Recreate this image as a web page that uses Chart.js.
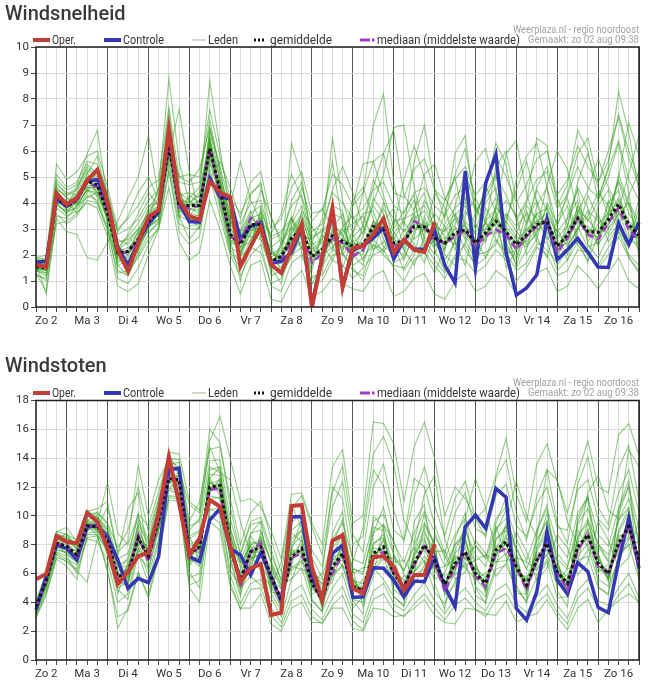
<!DOCTYPE html>
<html>
<head>
<meta charset="utf-8">
<script src="https://cdn.jsdelivr.net/npm/chart.js@4.4.1/dist/chart.umd.min.js"></script>
<style>
html,body{margin:0;padding:0;background:#fff;}
body{width:650px;height:692px;position:relative;overflow:hidden;font-family:Roboto,"Liberation Sans",Arial,sans-serif;}
canvas{position:absolute;left:0;}
.ttl{position:absolute;left:5px;margin:0;font-size:20px;line-height:20px;font-weight:500;color:#3a3a3a;z-index:2;}
</style>
</head>
<body>
<canvas id="c1" width="650" height="340" style="top:0px"></canvas>
<canvas id="c2" width="650" height="339" style="top:353px"></canvas>
<h1 class="ttl" style="top:3px">Windsnelheid</h1>
<h1 class="ttl" style="top:355px">Windstoten</h1>
<script>
// ---------- DATA ----------
const dayLabels = ['Zo 2','Ma 3','Di 4','Wo 5','Do 6','Vr 7','Za 8','Zo 9','Ma 10','Di 11','Wo 12','Do 13','Vr 14','Za 15','Zo 16'];
const legendLabels = ['Oper.','Controle','Leden','gemiddelde','mediaan (middelste waarde)'];
const sourceLines = ['Weerplaza.nl - regio noordoost','Gemaakt: zo 02 aug 09:38'];
const speedTicks = [0,1,2,3,4,5,6,7,8,9,10];
const gustTicks = [0,2,4,6,8,10,12,14,16,18];

// Windsnelheid (Bft)
const speedOper = [1.63,1.54,4.38,3.94,4.19,4.87,5.28,4.06,2.2,1.37,
 2.46,3.46,3.74,6.85,4.13,3.49,3.36,4.83,4.41,4.23,
 1.56,2.33,3.08,1.63,1.31,2.27,3.17,0.0,1.9,3.8,
 0.75,2.27,2.35,2.8,3.4,2.1,2.58,2.2,2.12,3.25];
const speedControle = [1.72,1.76,4.15,3.87,4.15,4.83,4.9,4.0,2.3,1.6,
 2.5,3.2,3.65,6.4,4.0,3.29,3.26,4.96,4.23,4.15,
 2.6,3.1,3.25,1.69,1.76,2.1,3.05,0.1,1.9,3.7,
 0.8,2.2,2.35,2.65,3.04,1.84,2.58,2.22,2.22,2.95,
 1.6,0.93,5.22,1.5,4.77,5.86,2.08,0.46,0.73,1.24,
 3.36,1.82,2.2,2.64,2.1,1.54,1.52,3.23,2.4,3.25];
const speedMean = [1.56,1.5,4.25,3.87,4.13,4.83,4.7,3.6,2.08,2.14,
 2.6,3.3,3.7,6.2,3.9,3.9,3.9,6.1,4.5,2.8,
 2.4,3.17,3.17,1.76,1.95,2.65,2.97,1.95,2.2,2.74,
 2.53,2.33,2.4,3.1,3.0,2.46,2.53,3.1,3.08,2.65,
 2.46,2.85,2.97,2.46,2.85,3.3,2.9,2.4,2.78,3.17,
 3.3,2.33,2.78,3.42,2.9,2.87,3.36,3.96,3.17,2.74];
const speedMedian = [1.6,1.5,4.2,3.9,4.1,4.8,4.6,3.7,2.1,2.1,
 2.6,3.3,3.7,6.3,3.8,3.8,3.9,6.1,4.4,2.7,
 2.5,3.42,3.17,1.69,1.88,2.5,2.97,1.69,2.08,2.65,
 2.46,1.95,2.2,2.9,3.04,2.33,2.46,3.3,3.1,2.6,
 2.46,2.7,2.97,2.33,2.72,2.97,2.78,2.2,2.72,3.1,
 3.3,2.08,2.65,3.42,2.78,2.6,3.23,3.8,2.97,2.53];
const speedMembers = [
 [1.5,1.3,4.0,3.6,4.2,5.0,4.9,3.2,1.6,1.8, 2.4,3.6,4.1,6.6,3.5,3.3,3.6,6.5,4.1,2.2, 1.7,2.6,3.4,1.2,1.4,3.2,3.9,2.4,1.6,2.2, 3.1,3.5,2.8,4.2,3.6,1.7,1.9,2.7,4.1,3.4, 2.0,1.6,2.5,3.6,4.4,5.1,3.0,1.5,2.2,3.9, 4.6,2.5,1.8,2.9,4.3,3.4,3.0,5.1,4.0,2.2],
 [1.8,1.9,4.6,4.2,3.9,4.5,4.4,4.0,2.6,2.4, 2.9,3.1,3.4,5.8,4.3,4.4,4.2,5.7,4.8,3.3, 2.9,3.7,2.7,2.3,2.6,2.2,2.5,1.4,2.9,3.4, 2.0,1.6,1.9,2.4,2.2,3.3,3.4,4.1,2.6,2.0, 3.2,3.8,4.2,2.0,2.1,2.4,3.6,3.1,3.6,2.5, 2.2,1.7,3.5,4.5,2.4,1.9,2.7,3.2,2.5,3.4],
 [1.4,1.2,3.8,3.5,3.7,4.4,5.3,3.9,1.4,1.2, 2.0,2.8,3.3,7.0,4.6,3.1,3.2,6.9,5.3,3.1, 2.0,2.2,3.8,1.5,0.9,2.6,3.3,1.1,1.3,3.6, 3.4,1.8,3.2,4.9,4.1,2.4,1.4,2.0,3.5,2.2, 1.4,2.6,3.7,3.0,4.0,4.6,2.3,1.8,3.1,4.5, 3.7,1.6,2.2,3.9,3.3,4.1,5.0,6.3,4.4,1.9],
 [1.7,1.6,4.4,4.0,4.4,5.2,4.2,3.4,2.3,2.7, 3.2,3.9,4.0,5.5,3.4,4.2,4.6,6.2,3.9,2.5, 2.7,3.5,3.0,2.0,2.3,3.5,2.7,2.6,3.0,2.4, 1.5,2.7,3.1,2.2,2.5,3.0,3.7,4.3,2.1,1.3, 2.3,3.1,2.2,1.6,2.8,3.5,4.1,3.5,2.0,2.6, 4.0,3.2,3.9,2.4,1.8,2.7,4.1,3.4,1.9,1.4],
 [1.5,1.4,4.2,3.8,4.0,4.9,4.8,3.5,1.9,1.5, 2.2,3.0,3.6,6.5,3.7,3.6,3.5,6.0,4.6,2.9, 1.9,2.9,3.4,1.6,1.7,2.9,3.5,2.2,2.6,3.2, 2.8,2.0,1.6,3.0,3.8,2.9,2.2,3.6,3.9,3.1, 2.9,3.4,2.6,1.8,3.5,4.2,2.7,1.9,3.3,4.1, 2.9,2.1,3.1,4.6,3.8,2.3,3.7,4.8,3.6,3.0],
 [1.6,1.7,4.8,4.3,4.5,5.4,5.0,3.7,2.2,2.5, 3.0,3.6,3.9,6.0,4.1,4.0,4.3,6.6,4.3,2.6, 2.2,3.0,2.8,1.7,2.1,2.4,2.9,1.8,1.9,2.6, 2.3,2.9,3.6,3.7,2.6,1.9,2.7,3.3,2.9,3.6, 3.1,2.2,3.5,4.2,3.3,2.6,1.9,2.8,3.9,3.4, 2.6,3.0,2.3,3.0,3.5,4.4,3.9,2.9,2.4,3.8],
 [1.3,0.6,3.6,3.2,3.5,4.3,4.1,3.1,1.1,0.9, 1.5,2.4,3.1,5.3,2.9,2.4,2.7,5.0,3.5,2.0, 1.2,2.0,2.4,0.8,0.6,1.7,2.0,0.9,1.0,1.8, 1.6,1.1,1.5,2.0,2.2,1.5,1.0,1.8,2.1,1.6, 1.1,1.9,1.8,1.3,1.6,2.2,1.8,1.0,1.5,2.3, 2.0,1.2,1.4,2.2,2.1,1.5,2.0,2.7,1.9,1.3],
 [1.9,2.0,5.1,4.6,4.8,5.6,5.5,4.4,2.8,3.0, 3.4,4.1,4.5,7.1,4.8,4.7,4.8,7.2,5.2,3.5, 3.2,4.0,4.1,2.6,2.8,3.9,4.3,2.9,3.2,4.4, 4.0,3.4,3.8,4.5,4.8,3.9,3.6,4.4,4.6,3.9, 3.5,4.3,4.6,3.7,4.2,5.0,4.3,3.4,4.1,4.9, 5.2,3.8,4.3,5.4,4.6,4.2,5.3,6.4,4.9,4.1],
 [1.6,1.5,4.1,4.0,4.3,4.6,4.5,3.8,2.0,2.2, 2.8,3.4,3.5,6.3,4.0,3.8,3.7,5.9,4.7,3.2, 2.6,3.4,3.6,1.9,1.5,2.1,3.7,3.1,2.4,1.8, 2.6,4.1,4.6,3.4,2.3,2.1,3.0,2.4,1.7,2.8, 4.1,5.0,3.1,2.6,1.9,3.0,3.4,4.5,5.6,4.0, 2.7,2.0,2.9,3.8,2.7,3.6,2.5,3.1,4.3,5.2],
 [1.4,1.3,3.9,3.7,3.8,4.6,4.6,3.3,1.8,1.9, 2.3,3.0,3.8,6.8,3.8,3.5,4.0,6.3,4.4,2.4, 2.5,3.3,2.6,1.4,2.4,3.1,2.3,1.6,2.8,2.2, 2.0,2.6,1.8,2.6,3.4,2.7,1.8,2.9,3.3,2.4, 2.2,3.5,2.8,2.3,3.8,3.1,2.0,2.2,2.6,3.6, 3.8,2.6,2.0,3.1,2.3,2.5,4.0,4.5,2.8,2.2],
 [1.7,1.8,4.5,3.8,4.2,5.1,5.8,4.2,2.4,1.7, 2.7,3.8,4.4,7.5,4.4,4.1,3.8,6.8,5.0,3.6, 2.3,2.5,3.3,2.1,1.8,2.8,3.4,2.3,1.7,3.0, 3.6,2.4,2.9,3.9,3.3,2.0,2.4,3.8,4.4,2.9, 2.6,3.2,3.9,3.2,2.5,3.9,3.1,2.6,2.3,2.9, 3.5,2.9,3.4,4.1,2.5,3.2,3.6,4.9,3.9,3.1],
 [1.5,1.6,4.3,4.1,3.6,4.1,4.0,3.0,1.7,2.0, 2.5,2.9,3.2,5.7,3.6,4.3,4.0,5.6,4.2,2.7, 2.8,3.6,3.9,2.4,1.3,1.9,2.8,1.7,2.1,3.3, 2.7,1.9,2.2,2.8,4.0,3.4,2.9,3.5,2.4,2.5, 1.8,2.5,3.3,2.8,3.0,3.7,2.5,1.6,2.9,3.6, 3.0,2.4,2.6,3.7,3.4,2.8,3.2,3.7,2.6,2.4],
 [1.8,1.4,4.0,3.9,4.6,5.3,4.9,3.9,2.1,2.3, 2.6,3.2,3.6,6.0,3.9,3.7,4.1,6.4,4.9,3.4, 2.1,2.8,3.5,1.9,2.2,2.5,3.1,2.1,2.5,2.9, 2.2,2.8,2.1,3.3,3.0,2.6,3.3,2.6,3.0,3.3, 2.7,2.4,3.0,2.9,3.2,2.8,3.3,2.7,2.5,3.0, 3.1,2.7,3.1,3.2,3.1,2.6,3.5,4.2,3.3,2.9],
 [1.6,1.7,4.7,4.4,4.3,5.0,4.4,3.5,2.5,2.6, 3.0,3.1,3.3,5.9,4.2,4.0,3.9,6.0,4.4,2.3, 2.0,3.1,2.9,1.5,2.5,3.4,2.6,1.9,2.3,2.5, 3.0,2.2,2.0,3.2,2.8,2.2,2.0,3.4,3.7,3.0, 2.4,2.7,3.2,2.1,2.6,3.4,2.8,2.5,3.0,3.3, 3.6,2.2,2.5,3.5,3.0,2.4,3.0,3.6,3.1,2.6],
 [1.5,1.4,4.2,3.7,4.0,4.7,4.6,3.7,2.2,2.0, 2.7,3.5,3.9,6.1,3.8,3.8,3.6,6.1,4.6,3.0, 2.6,3.4,3.1,1.8,1.9,2.7,3.2,2.0,2.0,2.8, 2.6,2.4,2.5,3.0,3.1,2.4,2.6,3.0,3.2,2.6, 2.4,3.0,3.1,2.6,2.8,3.2,3.0,2.3,2.7,3.1, 3.4,2.4,2.7,3.3,2.9,3.0,3.3,3.9,3.2,2.8],
 [1.7,1.6,4.4,4.0,4.1,4.9,4.7,3.8,1.9,2.1, 2.5,3.3,3.7,6.2,4.0,3.9,4.1,5.8,4.5,2.8, 2.3,3.1,3.0,1.7,2.1,2.6,2.8,1.8,2.3,2.6, 2.4,2.1,2.4,3.3,2.9,2.6,2.4,3.2,3.0,2.8, 2.5,2.8,2.9,2.4,3.0,3.5,2.8,2.2,2.9,3.3, 3.2,2.1,2.9,3.6,2.8,2.7,3.5,4.1,3.0,2.6],
 [1.2,1.1,3.5,3.4,3.9,4.5,4.0,2.9,1.3,1.4, 1.9,2.6,3.0,5.2,3.2,3.0,3.0,5.3,3.8,2.1, 1.5,2.3,2.1,0.9,1.1,2.0,2.3,1.2,1.2,2.0, 2.1,1.4,1.2,2.4,2.0,1.6,1.5,2.2,2.4,1.8, 1.3,2.0,2.4,1.6,1.9,2.6,2.1,1.4,1.7,2.4, 2.5,1.4,1.8,2.5,2.2,1.6,2.3,2.9,2.0,1.6],
 [1.9,1.8,5.5,4.9,5.2,5.8,6.0,4.6,3.0,3.4, 3.9,4.6,4.9,7.7,5.0,5.1,5.0,7.6,5.8,4.2, 3.6,4.4,4.7,3.0,3.4,4.6,5.2,3.6,3.7,5.1, 4.7,3.9,4.4,5.6,5.9,4.4,4.2,5.3,5.7,4.5, 4.1,4.9,5.4,4.3,4.8,5.8,5.0,4.0,4.7,5.7, 6.0,4.3,4.9,6.2,5.4,4.8,6.0,7.3,5.7,4.7],
 [1.4,1.6,4.6,4.2,4.0,4.5,4.3,3.6,2.3,2.1, 2.9,3.7,4.2,6.7,4.2,3.4,3.3,5.5,4.7,3.3, 2.8,2.7,2.6,1.6,1.9,3.0,3.6,2.5,2.0,2.3, 2.9,3.2,3.5,2.6,2.1,2.8,3.4,3.6,2.7,2.3, 3.0,3.6,2.7,2.2,3.3,3.8,3.5,2.9,2.4,2.8, 3.9,2.8,2.4,3.0,3.7,3.3,2.8,3.6,4.0,3.3],
 [1.7,0.5,3.4,2.9,2.8,1.9,1.8,2.5,3.3,4.2, 5.0,6.6,4.2,5.9,7.6,5.2,3.6,4.9,5.6,4.6, 3.4,4.8,5.2,3.4,2.6,4.1,4.8,2.7,2.9,4.5, 5.4,4.4,3.1,4.6,5.9,6.8,4.3,3.7,5.1,5.5, 4.2,3.5,4.0,5.6,6.1,4.4,3.2,4.9,5.8,6.3, 4.6,3.1,4.4,5.9,6.5,4.8,5.6,7.4,6.0,4.9],
 [1.8,1.7,4.9,4.5,4.7,5.9,6.8,4.1,2.4,1.5, 2.2,3.4,4.6,8.8,5.6,4.0,4.4,8.7,6.1,3.7, 2.9,4.3,4.8,2.2,1.7,6.3,5.0,2.4,2.6,6.5, 4.1,2.8,4.4,7.0,8.2,4.8,3.1,5.6,7.0,4.6, 3.4,5.9,6.6,3.5,4.5,6.3,5.5,3.3,4.0,6.5, 6.2,3.9,4.7,6.8,6.0,4.1,5.4,8.3,6.7,4.4],
 [1.3,1.0,3.2,3.3,3.6,4.0,3.8,2.7,0.8,0.6, 0.9,2.0,3.0,4.6,2.5,1.8,2.1,4.1,3.0,1.6, 0.5,1.6,1.8,0.3,0.2,1.0,1.4,0.4,0.6,1.1, 0.9,0.7,0.6,1.2,1.4,0.4,0.6,1.1,1.3,0.5, 0.3,1.0,1.3,0.6,0.8,1.4,1.1,0.5,0.7,1.3, 1.5,0.6,0.8,1.6,1.2,0.7,1.3,1.9,1.0,0.7],
 [1.5,1.4,4.4,3.8,4.3,4.9,4.6,3.8,1.6,1.2, 2.1,3.1,3.4,6.6,3.5,2.6,3.1,6.4,4.9,2.6, 1.0,2.4,3.7,2.7,2.9,3.4,2.1,0.9,1.6,3.9, 3.7,1.5,1.0,2.1,3.3,3.8,2.2,1.6,2.7,4.4, 3.8,2.5,1.6,3.3,4.7,3.6,1.5,2.2,3.7,2.7, 1.9,3.4,4.2,2.6,1.7,3.9,4.5,3.0,2.5,4.2],
 [1.6,1.8,4.5,4.3,4.6,5.5,5.1,4.3,2.9,3.5, 4.4,5.0,4.1,6.4,5.0,4.8,5.3,6.9,5.4,3.9, 5.6,4.1,3.3,2.8,3.6,5.1,4.2,2.5,3.4,5.6, 3.2,2.0,2.7,4.0,5.1,6.9,7.0,4.6,3.0,2.5, 3.6,5.1,6.1,4.0,2.7,3.8,5.9,6.4,4.4,3.0, 4.7,6.0,5.3,3.6,4.5,5.7,4.6,3.8,5.1,6.6],
 [1.4,1.5,4.0,3.6,3.9,4.2,4.4,3.4,2.2,2.8, 3.6,4.4,3.9,6.0,4.5,3.5,3.0,6.5,4.0,2.9, 2.0,3.3,4.5,3.5,2.4,3.3,4.6,3.3,3.8,3.0, 2.1,3.9,5.5,5.6,4.3,3.1,4.9,6.2,5.0,3.3, 2.2,3.9,5.2,3.8,3.2,5.4,6.0,4.1,3.2,4.6, 5.4,4.2,3.1,4.8,5.9,4.6,3.5,5.0,7.1,5.8]
];

// Windstoten (m/s)
const gustOper = [5.6,5.97,8.6,8.2,8.1,10.2,9.6,7.75,5.27,6.13,
 7.2,7.45,10.2,14.1,10.87,7.28,8.44,11.1,10.64,7.9,
 5.43,6.36,6.66,3.12,3.28,10.68,10.75,6.47,4.16,8.27,
 8.67,4.97,4.62,7.12,7.21,6.47,4.85,5.89,5.89,8.04];
const gustControle = [3.47,5.78,7.98,7.75,6.94,9.25,9.3,8.55,6.94,4.97,
 5.66,5.36,7.17,13.2,13.3,7.17,6.82,9.7,10.5,7.74,
 7.28,5.89,7.44,5.78,4.04,9.94,9.94,5.66,4.16,7.4,
 7.97,4.34,4.39,6.4,6.36,5.55,4.39,5.48,5.43,7.1,
 5.08,3.7,9.24,10.05,9.13,11.9,11.28,3.58,2.77,4.74,
 8.9,5.55,4.58,6.75,6.12,3.65,3.28,6.82,9.82,6.36];
const gustMean = [3.7,5.5,8.1,7.9,7.3,9.3,9.25,8.3,5.8,6.0,
 8.45,7.2,9.7,12.6,12.5,7.4,7.86,12.0,12.1,7.9,
 5.6,7.5,7.86,5.78,4.16,7.16,7.74,5.32,4.16,6.47,
 7.4,5.08,4.85,7.4,7.86,6.0,5.08,6.7,7.97,6.9,
 5.25,6.7,7.5,6.0,5.32,7.63,8.2,6.47,5.2,6.94,
 8.1,6.12,5.32,7.86,8.67,6.7,6.0,8.1,9.25,6.94];
const gustMedian = [3.7,5.5,8.1,7.9,7.2,9.3,9.3,8.4,5.6,6.0,
 8.67,6.8,9.6,12.7,12.4,7.3,7.8,11.8,11.9,7.8,
 5.1,7.5,8.13,5.7,4.2,7.1,7.4,5.3,4.6,6.0,
 7.3,5.0,4.9,7.1,7.5,6.0,5.1,6.6,7.9,6.8,
 4.74,6.5,7.5,5.8,5.08,7.4,7.74,6.47,4.85,6.94,
 8.0,6.12,4.85,7.63,8.67,6.47,6.0,7.86,9.25,6.6];
const gustMembers = [
 [3.5,5.2,7.8,7.6,7.6,9.6,9.0,7.6,5.0,5.4, 8.9,7.6,10.2,13.1,11.9,6.8,7.2,12.6,11.4,7.1, 4.6,6.8,8.6,5.1,3.6,8.1,9.0,6.2,3.7,5.8, 8.5,6.4,5.9,9.2,9.0,4.9,4.3,6.0,9.4,8.0, 4.5,5.2,7.2,7.9,7.0,9.3,7.1,4.6,4.6,8.3, 9.6,6.9,4.4,6.8,9.7,8.1,6.9,9.7,10.6,6.0],
 [3.9,5.8,8.4,8.2,7.0,9.0,9.6,8.8,6.4,6.5, 8.0,6.8,9.3,12.2,12.9,8.0,8.4,11.6,12.6,8.6, 6.4,8.1,7.2,6.5,4.9,6.4,6.9,4.6,4.8,7.4, 6.5,4.2,4.0,6.3,7.0,7.1,6.2,7.8,6.8,5.6, 6.0,8.0,8.6,5.1,4.4,6.5,9.3,7.7,6.3,5.9, 7.0,5.2,6.4,9.0,7.8,5.6,5.1,7.0,8.4,8.1],
 [3.2,5.0,7.4,7.0,6.6,8.9,9.9,9.2,5.5,5.1, 9.6,8.2,10.8,13.8,13.4,7.1,6.5,13.4,13.0,8.9, 5.2,6.2,8.9,6.8,3.4,7.6,9.8,6.6,3.5,7.9, 9.8,5.6,4.2,8.8,10.6,7.4,4.2,7.5,10.1,7.8, 4.8,7.6,9.1,6.8,4.6,8.9,10.4,7.4,4.4,7.8, 10.2,6.9,4.7,9.6,11.2,7.4,5.4,10.1,12.1,7.8],
 [4.0,6.1,8.8,8.4,7.8,9.8,8.8,7.4,4.6,6.8, 7.2,6.4,9.1,11.9,11.8,8.4,8.9,11.2,11.3,7.0, 6.2,8.6,7.6,4.7,4.6,6.2,6.8,6.0,5.3,5.9, 6.6,4.6,5.6,6.6,7.1,5.2,5.8,6.1,7.2,6.3, 6.5,7.0,6.4,5.6,6.0,6.8,7.4,5.9,5.8,6.4, 7.3,5.6,5.9,7.2,8.1,6.1,6.6,7.5,8.6,6.4],
 [3.6,5.4,8.0,7.8,7.2,9.2,9.2,8.2,5.7,6.0, 8.4,7.1,9.6,12.5,12.4,7.3,7.8,12.0,12.0,7.9, 5.5,7.4,7.8,5.7,4.1,7.1,7.6,5.2,4.1,6.4, 7.3,5.0,4.8,7.3,7.8,5.9,5.0,6.6,7.9,6.8, 5.2,6.6,7.4,5.9,5.2,7.5,8.1,6.4,5.1,6.8, 8.0,6.0,5.2,7.8,8.6,6.6,5.9,8.0,9.2,6.8],
 [3.8,5.9,8.6,8.6,8.0,10.1,10.2,9.4,7.0,7.4, 9.9,8.4,11.1,13.6,13.7,9.3,9.6,13.8,13.9,9.8, 7.3,9.4,9.6,7.3,5.6,9.0,9.6,7.1,5.7,8.4, 9.5,7.0,6.7,9.6,10.1,8.1,6.8,8.8,10.3,8.9, 7.0,8.7,9.8,8.0,7.1,9.8,10.6,8.4,6.9,9.0, 10.5,8.1,7.1,10.2,11.3,8.7,7.9,10.5,12.0,9.1],
 [3.0,4.6,7.1,6.9,6.3,8.5,8.6,6.3,2.2,3.6, 6.1,4.3,7.1,11.1,11.0,5.2,5.5,10.0,9.5,5.4, 3.5,4.9,5.0,3.1,2.3,4.1,4.5,3.0,2.5,3.8, 4.5,2.7,2.1,4.2,4.6,3.4,3.0,3.9,4.6,3.6, 2.8,3.8,4.3,3.5,3.0,4.2,4.6,3.4,2.9,3.9, 4.6,3.3,2.5,4.3,5.0,3.6,3.4,4.5,5.3,3.9],
 [3.4,5.3,7.7,7.4,6.8,9.1,9.5,12.3,8.8,8.0, 10.1,9.3,11.7,14.2,13.1,10.8,10.2,14.6,14.8,11.2, 8.0,10.2,11.0,8.4,6.1,10.5,11.4,9.2,7.3,11.6, 13.5,8.7,7.5,12.0,13.6,10.4,8.2,11.3,13.4,10.7, 8.6,11.2,12.4,9.8,8.5,12.6,13.9,10.2,8.3,11.4, 13.2,9.5,8.1,12.2,14.1,10.6,9.4,13.3,14.9,11.0],
 [3.9,5.7,8.3,8.1,7.5,9.5,9.0,8.0,5.5,6.6, 8.8,6.9,9.4,12.9,12.2,7.0,8.2,11.7,12.4,7.6, 5.1,8.0,8.3,5.3,4.6,7.7,7.1,4.9,4.5,7.0, 6.9,5.5,5.3,6.9,8.4,6.4,4.7,7.3,8.5,6.3, 4.9,7.2,7.0,6.4,5.7,7.1,8.7,6.1,5.6,7.4, 7.6,6.5,5.7,7.4,9.1,7.1,5.6,8.6,8.8,7.3],
 [3.5,5.5,8.1,7.7,7.1,9.2,9.7,9.0,6.9,5.5, 8.2,7.9,10.5,12.4,11.6,6.5,7.5,12.9,12.8,8.3, 4.9,7.0,7.4,6.3,4.0,6.6,8.4,5.8,3.9,6.1, 8.1,5.7,4.5,8.0,8.7,6.6,4.6,7.1,8.8,7.6, 4.6,6.1,8.2,6.7,4.9,8.4,9.0,7.0,4.8,7.5, 8.9,6.6,4.9,8.6,9.5,7.3,5.6,8.8,10.2,6.5],
 [3.8,5.4,7.9,7.8,7.3,9.0,9.1,8.1,5.8,6.2, 8.3,7.0,9.5,12.4,12.3,7.5,7.7,11.8,11.9,7.7, 5.7,7.3,7.6,5.9,4.3,7.0,7.5,5.4,4.3,6.3, 7.2,5.2,5.0,7.2,7.7,6.1,5.2,6.5,7.8,7.0, 5.4,6.5,7.3,6.1,5.4,7.4,8.0,6.6,5.3,6.7, 7.9,6.2,5.4,7.7,8.5,6.8,6.1,7.9,9.1,7.0],
 [3.6,5.3,8.5,8.3,7.7,9.7,9.4,7.9,5.3,5.8, 8.6,7.6,9.8,12.8,12.7,7.8,7.4,12.4,11.8,7.4, 6.0,7.1,7.3,5.5,4.4,7.4,8.0,5.0,4.7,6.9, 7.8,4.8,5.2,7.0,8.3,6.3,5.5,6.3,8.3,6.6, 5.8,6.3,7.8,5.8,5.6,7.3,8.5,6.3,5.6,6.6, 8.4,5.8,5.6,7.6,9.0,6.5,6.3,7.8,9.6,6.7],
 [4.1,5.9,8.9,8.7,8.3,10.4,9.8,8.6,6.3,5.7, 7.7,7.8,10.4,13.3,12.0,6.6,8.6,11.4,11.2,9.2, 6.8,6.5,8.5,6.9,5.2,5.6,7.3,6.4,4.9,5.4, 7.9,6.3,3.7,5.8,9.4,8.3,5.9,5.2,6.6,8.6, 7.3,5.6,6.1,8.3,7.4,5.8,6.7,8.9,7.5,5.5, 6.4,8.7,7.8,5.9,6.8,9.6,8.3,6.4,7.1,9.7],
 [3.3,5.1,7.6,7.5,7.0,8.8,8.9,8.4,6.0,6.3, 9.2,7.3,9.0,12.0,12.2,7.9,8.0,12.2,12.5,8.4, 5.8,8.2,8.0,5.6,3.9,7.9,8.6,5.1,4.4,7.2, 8.8,5.4,4.6,8.1,8.5,5.8,4.8,7.4,9.1,6.7, 5.1,7.4,8.3,5.7,4.8,8.3,9.3,6.3,4.9,7.7, 9.2,5.8,4.9,8.5,9.8,6.4,5.7,9.0,10.5,6.6],
 [3.1,4.8,7.3,6.8,6.2,5.4,8.4,8.9,4.9,4.2, 7.4,5.3,8.2,11.4,11.3,5.7,6.0,10.5,10.1,5.9, 3.9,5.3,5.6,3.6,2.6,4.7,5.2,3.5,2.8,4.3, 5.1,3.2,2.6,4.8,5.3,3.9,3.4,4.5,5.4,4.1, 3.2,4.3,5.0,4.0,3.4,4.8,5.3,3.9,3.3,4.4, 5.2,3.8,2.9,4.8,5.6,4.1,3.8,5.0,6.0,4.3],
 [3.9,6.0,8.7,8.5,7.9,10.0,9.9,9.0,6.6,6.9, 9.4,8.0,10.6,13.2,13.2,8.6,9.0,13.2,13.4,9.1, 6.8,8.8,9.0,6.7,5.1,8.4,9.0,6.4,5.2,7.7, 8.8,6.3,6.1,8.8,9.4,7.3,6.2,8.0,9.5,8.1, 6.5,8.0,9.0,7.3,6.5,9.1,9.8,7.8,6.3,8.3, 9.7,7.4,6.5,9.4,10.5,8.0,7.3,9.7,11.2,8.3],
 [3.5,5.5,8.2,8.0,7.2,9.1,9.2,10.6,7.5,8.2, 13.5,10.0,12.5,13.9,12.9,9.0,9.8,15.2,16.9,14.0, 11.0,11.2,10.6,9.0,7.0,11.5,11.6,9.5,8.0,13.4, 14.6,9.5,10.0,16.5,16.4,15.0,11.0,14.8,16.5,14.0, 10.0,12.0,11.2,9.8,10.5,12.8,15.4,11.5,9.6,13.6, 15.0,12.4,10.2,12.9,15.2,12.0,11.6,15.6,16.4,14.2],
 [3.6,5.7,8.3,8.8,7.6,9.6,10.3,9.5,7.8,9.0, 12.0,8.9,11.2,14.4,14.3,11.0,10.4,16.0,15.1,10.6, 7.4,9.6,9.9,7.7,5.4,9.5,10.3,7.6,6.5,10.6, 12.4,8.0,8.6,13.2,12.1,9.0,8.4,12.6,12.0,9.4, 7.4,10.2,11.6,9.1,8.7,11.4,12.2,9.3,8.6,10.8, 12.0,9.2,9.0,11.8,12.5,9.8,9.0,11.6,13.2,10.2],
 [2.9,4.5,7.0,6.5,5.6,8.7,8.7,6.1,3.0,3.4, 6.0,4.5,7.4,11.3,11.1,5.0,4.0,9.6,9.0,5.1, 3.6,3.6,4.6,2.5,2.0,3.6,4.0,2.6,2.6,3.6, 3.6,2.2,2.0,3.6,3.5,3.0,3.1,3.6,4.2,3.1, 2.6,2.5,3.6,3.5,3.2,3.1,4.1,2.6,3.0,3.2, 4.2,3.0,2.1,3.6,4.2,2.6,3.5,4.1,4.6,4.0],
 [3.7,5.4,8.1,7.3,6.8,9.2,10.1,7.2,6.1,7.1, 10.2,6.2,9.0,12.3,13.1,8.6,6.9,12.6,13.4,6.9, 4.4,8.8,9.6,4.6,3.4,8.8,8.2,4.2,3.3,8.8, 10.3,4.1,3.2,10.0,9.2,4.4,3.8,9.6,10.8,5.3, 3.5,8.4,10.2,5.0,3.9,9.5,11.3,5.2,3.9,8.9, 10.8,4.8,3.7,9.9,11.4,5.1,4.5,10.5,12.5,5.4],
 [3.8,5.2,7.7,8.5,8.0,9.4,8.6,7.7,5.4,5.3, 7.6,7.2,9.3,13.0,12.3,7.2,7.6,11.9,12.2,8.7, 6.7,7.9,6.6,5.4,5.0,6.5,6.3,5.9,5.6,5.8, 6.5,6.0,6.4,6.5,6.3,6.8,6.9,5.9,6.3,7.5, 7.6,5.9,6.6,6.9,7.3,6.8,6.9,7.1,6.8,6.2, 7.4,7.0,6.3,6.6,7.6,7.9,6.8,7.3,8.0,8.2],
 [3.4,5.6,8.4,7.6,7.1,9.5,9.2,8.1,5.6,6.4, 8.1,7.5,10.0,12.3,12.8,7.1,8.3,12.3,11.7,8.0, 5.3,7.7,8.1,5.2,4.0,7.5,7.4,5.6,3.8,6.8, 7.1,5.7,4.4,7.8,7.5,6.3,4.9,7.0,7.6,6.5, 5.0,7.1,7.1,6.4,4.9,7.9,7.7,6.9,4.8,7.2, 7.7,6.5,5.0,8.2,8.3,7.1,5.6,8.4,8.9,7.2],
 [3.3,5.6,8.9,9.2,8.2,10.3,10.5,11.0,7.2,10.5, 11.6,7.0,10.8,14.0,13.9,9.6,11.0,14.8,13.0,12.5, 9.6,7.3,6.2,5.0,6.8,10.8,9.1,5.4,6.0,12.0, 11.2,6.8,9.2,14.3,15.5,13.6,9.7,8.1,11.5,12.8, 8.4,6.2,9.8,12.6,10.5,7.6,9.4,12.4,10.0,8.5, 13.2,12.5,9.6,8.0,11.6,12.8,10.4,9.8,14.6,13.4],
 [3.6,5.1,7.5,7.2,6.0,8.4,8.2,6.9,4.0,4.6, 7.8,5.9,8.4,11.8,11.5,6.1,5.0,10.4,10.6,6.2, 5.0,5.8,5.2,4.3,3.0,5.6,6.4,4.1,3.4,5.0, 6.0,3.6,4.4,6.4,5.6,4.4,3.7,6.1,6.9,4.7, 3.9,5.5,6.8,4.5,4.0,6.3,6.6,4.9,4.1,5.7, 6.8,4.3,4.4,6.9,7.2,5.0,4.6,7.2,8.0,5.6]
];

// ---------- RENDERING ----------
const timeLabels = [];
for (let i = 0; i < 60; i++) timeLabels.push(i % 4 === 1 ? dayLabels[(i - 1) / 4] : '');

function hasFont(name) {
  const c = document.createElement('canvas').getContext('2d');
  const s = 'mmmmmmmmmmlli Weerplaza 0123';
  c.font = '40px monospace'; const a = c.measureText(s).width;
  c.font = '40px "' + name + '", monospace'; const b = c.measureText(s).width;
  return a !== b;
}
const NARROW = hasFont('Liberation Sans Narrow');
const tickFamily = NARROW ? '"Liberation Sans Narrow", Roboto, sans-serif' : 'Roboto, "Liberation Sans", sans-serif';
const tickSize = NARROW ? 13 : 11.5;
const textFamily = tickFamily;

const COL = {
  oper: '#c23d35', ctrl: '#3437b4', mean: '#141414', median: '#a43ac4',
  member: 'rgba(50,158,28,0.52)', dayLine: '#5a5a5a', grid: '#dadada'
};

const framePlugin = {
  id: 'frame',
  afterDraw(chart) {
    const a = chart.chartArea, c = chart.ctx;
    c.save();
    c.strokeStyle = '#1e1e1e'; c.lineWidth = 1.5; c.setLineDash([]);
    c.strokeRect(a.left, a.top, a.right - a.left, a.bottom - a.top);
    c.restore();
  }
};

const legendPlugin = {
  id: 'wxLegend',
  afterDraw(chart) {
    const c = chart.ctx, y = 40;
    c.save();
    const seg = (x1, x2, color, w, dash) => {
      c.beginPath(); c.setLineDash(dash || []); c.strokeStyle = color; c.lineWidth = w;
      c.moveTo(x1, y); c.lineTo(x2, y); c.stroke();
    };
    c.font = (NARROW ? 13.5 : 12) + 'px ' + textFamily;
    c.textBaseline = 'middle'; c.textAlign = 'left'; c.fillStyle = '#333';
    seg(33, 50, COL.oper, 4); c.fillText(legendLabels[0], 52, y + 0.5, 24);
    seg(104, 121, COL.ctrl, 4); c.fillText(legendLabels[1], 123, y + 0.5, 41);
    seg(192, 206, '#c9cdb8', 1.5); c.fillText(legendLabels[2], 208, y + 0.5, 30);
    seg(254, 266, COL.mean, 3, [2, 2]); c.fillText(legendLabels[3], 270, y + 0.5, 62);
    seg(360, 370, COL.median, 3); seg(372, 374.5, COL.median, 3);
    c.fillText(legendLabels[4], 377, y + 0.5, 143);
    c.fillStyle = '#a2a2a2'; c.textAlign = 'right';
    c.font = (NARROW ? 11.5 : 10.5) + 'px ' + textFamily;
    c.fillText(sourceLines[0], 639, 30, 126);
    c.fillText(sourceLines[1], 639, 40.5, 111);
    c.restore();
  }
};

function buildDatasets(oper, ctrl, mean, median, members) {
  const ds = [];
  ds.push({ label: legendLabels[0], data: oper, borderColor: COL.oper, borderWidth: 4 });
  ds.push({ label: legendLabels[3], data: mean, borderColor: COL.mean, borderWidth: 3, borderDash: [3, 2.5] });
  ds.push({ label: legendLabels[4], data: median, borderColor: COL.median, borderWidth: 2.5, borderDash: [7, 4] });
  ds.push({ label: legendLabels[1], data: ctrl, borderColor: COL.ctrl, borderWidth: 3.5 });
  members.forEach(m => ds.push({ label: legendLabels[2], data: m, borderColor: COL.member, borderWidth: 1.1 }));
  return ds;
}

function makeChart(id, datasets, yTicks, padTop, xHeight) {
  const yMax = yTicks[yTicks.length - 1];
  const yStep = yTicks[1] - yTicks[0];
  return new Chart(document.getElementById(id), {
    type: 'line',
    data: { labels: timeLabels, datasets },
    options: {
      responsive: false, animation: false, events: [],
      layout: { padding: { top: padTop, right: 11, left: 0, bottom: 0 } },
      elements: { point: { radius: 0 }, line: { tension: 0, fill: false } },
      plugins: { legend: { display: false }, tooltip: { enabled: false } },
      scales: {
        x: {
          type: 'category', offset: false,
          grid: {
            offset: false, lineWidth: 1, drawTicks: true, tickLength: 5,
            color: ctx => (ctx.index % 4 === 3 ? COL.dayLine : COL.grid),
            tickColor: '#444'
          },
          border: { display: false },
          ticks: { autoSkip: false, maxRotation: 0, minRotation: 0, padding: 2, color: '#333',
                   font: { family: tickFamily, size: tickSize } },
          afterFit: s => { s.height = xHeight; }
        },
        y: {
          min: 0, max: yMax,
          grid: { color: COL.grid, lineWidth: 1, tickLength: 5, tickColor: '#444' },
          border: { display: false },
          ticks: { stepSize: yStep, padding: 2, color: '#333', font: { family: tickFamily, size: tickSize } },
          afterFit: s => { s.width = 36; }
        }
      }
    },
    plugins: [framePlugin, legendPlugin]
  });
}

makeChart('c1', buildDatasets(speedOper, speedControle, speedMean, speedMedian, speedMembers), speedTicks, 47, 33);
makeChart('c2', buildDatasets(gustOper, gustControle, gustMean, gustMedian, gustMembers), gustTicks, 47.5, 32);
</script>
</body>
</html>
